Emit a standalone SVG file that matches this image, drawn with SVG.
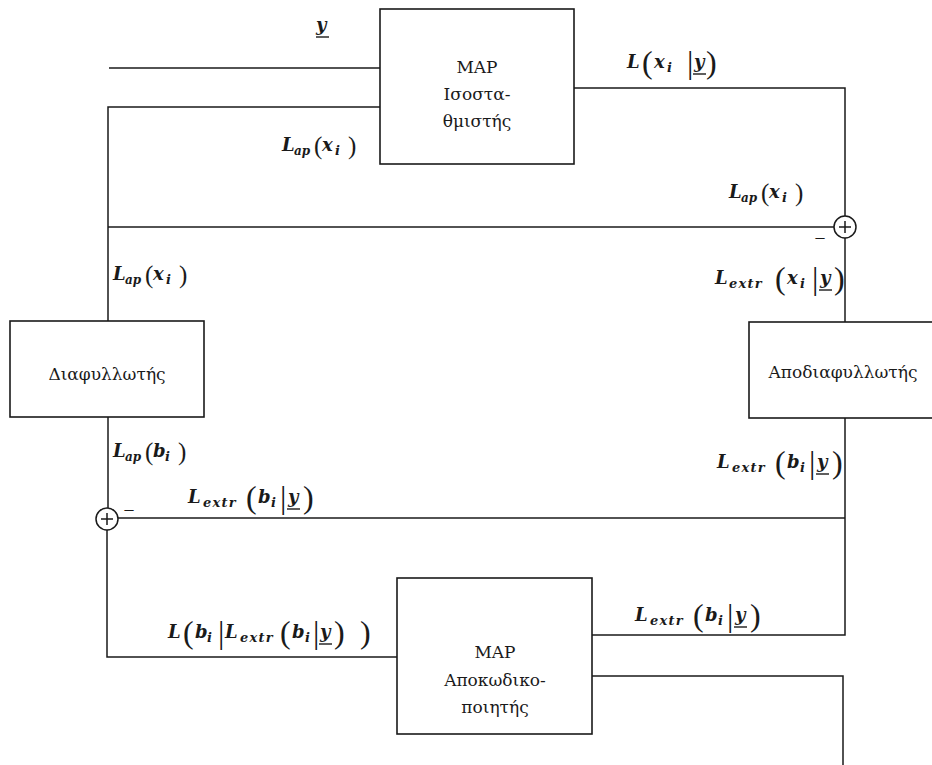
<svg xmlns="http://www.w3.org/2000/svg" width="932" height="765" viewBox="0 0 932 765">
  <style>
    .box { fill: #ffffff; stroke: #1a1a1a; stroke-width: 1.6; }
    .wire { fill: none; stroke: #1a1a1a; stroke-width: 1.5; }
    .bar { fill: none; stroke: #1a1a1a; stroke-width: 1.4; }
    .sum { fill: #ffffff; stroke: #1a1a1a; stroke-width: 1.5; }
    .name { font-family: 'DejaVu Serif', 'Liberation Serif', serif; font-size: 17px; text-anchor: middle; fill: #1a1a1a; }
    .m { font-family: 'DejaVu Serif', serif; font-style: italic; font-weight: bold; font-size: 18px; fill: #1a1a1a; }
    .s { font-size: 13px; }
    .sa { font-size: 12px; }
    .sx { font-size: 13px; letter-spacing: 1.2px; }
    .p { font-family: 'Liberation Serif', 'DejaVu Serif', serif; font-size: 32px; font-style: normal; font-weight: normal; }
    .q { font-family: 'Liberation Serif', 'DejaVu Serif', serif; font-size: 25px; font-style: normal; font-weight: normal; }
    .sign { font-family: 'Liberation Serif', serif; font-size: 18px; text-anchor: middle; fill: #1a1a1a; }
  </style>

  <!-- signal paths -->
  <g id="connectors">
    <path class="wire" d="M109 68 H380"/>
    <path class="wire" d="M380 107 H108 V321"/>
    <path class="wire" d="M574 88 H845 V216"/>
    <path class="wire" d="M845 238 V322"/>
    <path class="wire" d="M834 227 H108"/>
    <path class="wire" d="M108 417 V508"/>
    <path class="wire" d="M107 530 V657 H397"/>
    <path class="wire" d="M118 518 H845"/>
    <path class="wire" d="M845 418 V635 H592"/>
    <path class="wire" d="M592 676 H843 V765"/>
  </g>

  <!-- processing blocks -->
  <g id="equalizer">
    <rect class="box" x="380" y="9" width="194" height="155"/>
    <text class="name" x="477" y="73">MAP</text>
    <text class="name" x="477" y="100">Ισοστα-</text>
    <text class="name" x="477" y="127">θμιστής</text>
  </g>
  <g id="interleaver">
    <rect class="box" x="10" y="321" width="194" height="96"/>
    <text class="name" x="107" y="380">Διαφυλλωτής</text>
  </g>
  <g id="deinterleaver">
    <rect class="box" x="749" y="322" width="195" height="96"/>
    <text class="name" x="843" y="378">Αποδιαφυλλωτής</text>
  </g>
  <g id="decoder">
    <rect class="box" x="397" y="578" width="195" height="156"/>
    <text class="name" x="495" y="658">MAP</text>
    <text class="name" x="495" y="686">Αποκωδικο-</text>
    <text class="name" x="495" y="713">ποιητής</text>
  </g>

  <!-- summing junctions -->
  <g id="sum-top">
    <circle class="sum" cx="845" cy="227" r="11"/>
    <path class="wire" d="M839 227 H851 M845 221 V233"/>
    <text class="sign" x="820" y="243">–</text>
  </g>
  <g id="sum-bottom">
    <circle class="sum" cx="107" cy="519" r="11"/>
    <path class="wire" d="M101 519 H113 M107 513 V525"/>
    <text class="sign" x="129" y="515">–</text>
  </g>

  <!-- signal labels -->
  <g id="labels">
    <!-- received sequence -->
    <text class="m" x="316" y="31">y</text>
    <path class="bar" d="M316 37 H329"/>

    <!-- L(x_i | y) -->
    <text class="m"><tspan x="627" y="68">L</tspan><tspan class="p" x="642" y="73">(</tspan><tspan x="654" y="68">x</tspan><tspan class="s" x="667" y="72">i</tspan><tspan class="p" x="687" y="73">|</tspan><tspan x="694" y="68">y</tspan><tspan class="p" x="706" y="73">)</tspan></text>
    <path class="bar" d="M693 74 H706"/>

    <!-- L_ap(x_i), equalizer input -->
    <text class="m"><tspan x="282" y="151">L</tspan><tspan class="sa" x="294" y="155">ap</tspan><tspan class="q" x="314" y="154">(</tspan><tspan x="322" y="151">x</tspan><tspan class="s" x="335" y="155">i</tspan><tspan class="q" x="348" y="154">)</tspan></text>

    <!-- L_ap(x_i), summing input -->
    <text class="m"><tspan x="729" y="198">L</tspan><tspan class="sa" x="741" y="202">ap</tspan><tspan class="q" x="761" y="201">(</tspan><tspan x="769" y="198">x</tspan><tspan class="s" x="782" y="202">i</tspan><tspan class="q" x="795" y="201">)</tspan></text>

    <!-- L_extr(x_i | y) -->
    <text class="m"><tspan x="715" y="284">L</tspan><tspan class="sx" x="729" y="288">extr</tspan><tspan class="p" x="775" y="289">(</tspan><tspan x="787" y="284">x</tspan><tspan class="s" x="800" y="288">i</tspan><tspan class="p" x="812" y="289">|</tspan><tspan x="820" y="284">y</tspan><tspan class="p" x="834" y="289">)</tspan></text>
    <path class="bar" d="M819 290 H832"/>

    <!-- L_ap(x_i), interleaver input -->
    <text class="m"><tspan x="113" y="280">L</tspan><tspan class="sa" x="125" y="284">ap</tspan><tspan class="q" x="145" y="283">(</tspan><tspan x="153" y="280">x</tspan><tspan class="s" x="166" y="284">i</tspan><tspan class="q" x="179" y="283">)</tspan></text>

    <!-- L_ap(b_i) -->
    <text class="m"><tspan x="113" y="457">L</tspan><tspan class="sa" x="125" y="461">ap</tspan><tspan class="q" x="145" y="460">(</tspan><tspan x="153" y="457">b</tspan><tspan class="s" x="165" y="461">i</tspan><tspan class="q" x="178" y="460">)</tspan></text>

    <!-- L_extr(b_i | y), summing input -->
    <text class="m"><tspan x="188" y="503">L</tspan><tspan class="sx" x="203" y="507">extr</tspan><tspan class="p" x="246" y="508">(</tspan><tspan x="258" y="503">b</tspan><tspan class="s" x="271" y="507">i</tspan><tspan class="p" x="280" y="508">|</tspan><tspan x="288" y="503">y</tspan><tspan class="p" x="303" y="508">)</tspan></text>
    <path class="bar" d="M287 509 H300"/>

    <!-- L_extr(b_i | y), deinterleaver output -->
    <text class="m"><tspan x="717" y="468">L</tspan><tspan class="sx" x="732" y="472">extr</tspan><tspan class="p" x="775" y="473">(</tspan><tspan x="787" y="468">b</tspan><tspan class="s" x="800" y="472">i</tspan><tspan class="p" x="809" y="473">|</tspan><tspan x="817" y="468">y</tspan><tspan class="p" x="832" y="473">)</tspan></text>
    <path class="bar" d="M816 474 H829"/>

    <!-- L_extr(b_i | y), decoder output -->
    <text class="m"><tspan x="635" y="621">L</tspan><tspan class="sx" x="650" y="625">extr</tspan><tspan class="p" x="693" y="626">(</tspan><tspan x="705" y="621">b</tspan><tspan class="s" x="718" y="625">i</tspan><tspan class="p" x="727" y="626">|</tspan><tspan x="735" y="621">y</tspan><tspan class="p" x="750" y="626">)</tspan></text>
    <path class="bar" d="M734 627 H747"/>

    <!-- L(b_i | L_extr(b_i | y)) -->
    <text class="m"><tspan x="168" y="638">L</tspan><tspan class="p" x="183" y="643">(</tspan><tspan x="195" y="638">b</tspan><tspan class="s" x="207" y="642">i</tspan><tspan class="p" x="218" y="643">|</tspan><tspan x="225" y="638">L</tspan><tspan class="sx" x="240" y="642">extr</tspan><tspan class="p" x="280" y="643">(</tspan><tspan x="292" y="638">b</tspan><tspan class="s" x="305" y="642">i</tspan><tspan class="p" x="313" y="643">|</tspan><tspan x="320" y="638">y</tspan><tspan class="p" x="334" y="643">)</tspan><tspan class="p" x="360" y="643">)</tspan></text>
    <path class="bar" d="M319 644 H332"/>
  </g>
</svg>
